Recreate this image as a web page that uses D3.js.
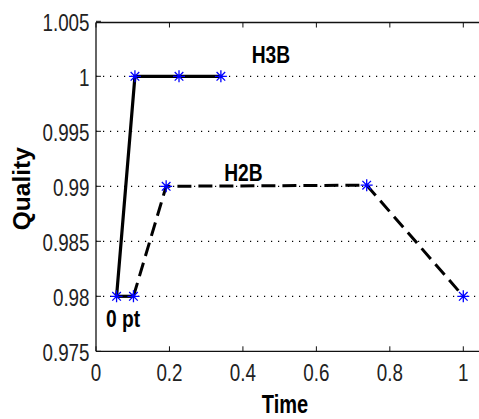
<!DOCTYPE html>
<html><head><meta charset="utf-8">
<script src="https://cdn.jsdelivr.net/npm/d3@7"></script>
<style>body{margin:0;background:#fff}svg{display:block}</style>
</head><body>
<script>
// ---- data ----
const xTicks = [0, 0.2, 0.4, 0.6, 0.8, 1];
const yTicks = [0.975, 0.98, 0.985, 0.99, 0.995, 1, 1.005];
const gridTicks = [0.98, 0.985, 0.99, 0.995, 1];
const h3bTime = [0.056, 0.106, 0.226, 0.34];
const h3bQuality = [0.98, 1.0, 1.0, 1.0];
const h2bTime = [0.102, 0.191, 0.737, 1.0];
const h2bQuality = [0.98, 0.99, 0.9901, 0.98];
const baseTime = [0.056, 0.102];
const baseQuality = [0.98, 0.98];
const labels = [
  {text: "H3B", t: 0.424, q: 1.00124},
  {text: "H2B", t: 0.349, q: 0.99048},
  {text: "0 pt", t: 0.027, q: 0.97718}
];

(function () {
const W = 479, H = 419;
const svg = d3.select("body").append("svg").attr("width", W).attr("height", H);
const x = d3.scaleLinear().domain([0, 1.05]).range([96, 96 + 1.05 * 367.3]);
const y = d3.scaleLinear().domain([0.975, 1.005]).range([351.3, 21.3]);
const font = "'Liberation Sans', Arial, sans-serif";

// grid
svg.append("g").selectAll("line").data(gridTicks).join("line")
  .attr("x1", x(0)).attr("x2", W).attr("y1", d => y(d)).attr("y2", d => y(d))
  .attr("stroke", "#000").attr("stroke-width", 1.2).attr("stroke-dasharray", "1.2,5.8");

// axes frame
const yTop = y(1.005) + 1.2, yBot = y(0.975);
svg.append("line").attr("x1", x(0)).attr("x2", W).attr("y1", yTop).attr("y2", yTop).attr("stroke", "#111").attr("stroke-width", 1.3);
svg.append("line").attr("x1", x(0)).attr("x2", W).attr("y1", yBot).attr("y2", yBot).attr("stroke", "#111").attr("stroke-width", 1.3);
svg.append("line").attr("x1", x(0)).attr("x2", x(0)).attr("y1", yTop).attr("y2", yBot).attr("stroke", "#111").attr("stroke-width", 1.3);

// ticks (inward)
svg.append("g").selectAll("line").data(xTicks).join("line")
  .attr("x1", d => x(d)).attr("x2", d => x(d)).attr("y1", yBot).attr("y2", yBot - 5).attr("stroke", "#111");
svg.append("g").selectAll("line").data(xTicks).join("line")
  .attr("x1", d => x(d)).attr("x2", d => x(d)).attr("y1", yTop).attr("y2", yTop + 5).attr("stroke", "#111");
svg.append("g").selectAll("line").data(yTicks).join("line")
  .attr("x1", x(0)).attr("x2", x(0) + 5).attr("y1", d => y(d)).attr("y2", d => y(d)).attr("stroke", "#111");

// tick labels
const fmt = d => String(+d.toFixed(3));
svg.append("g").selectAll("text").data(yTicks).join("text")
  .attr("transform", d => `translate(89.5,${y(d)}) scale(0.8,1)`)
  .attr("dy", "0.4em").attr("text-anchor", "end")
  .attr("font-family", font).attr("font-size", 23.5).attr("fill", "#222")
  .text(fmt);
svg.append("g").selectAll("text").data(xTicks).join("text")
  .attr("transform", d => `translate(${x(d)},381) scale(0.8,1)`)
  .attr("text-anchor", "middle")
  .attr("font-family", font).attr("font-size", 23.5).attr("fill", "#222")
  .text(fmt);

// axis titles
svg.append("text").attr("transform", "translate(285,413) scale(0.77,1)")
  .attr("text-anchor", "middle").attr("font-family", font).attr("font-weight", "bold")
  .attr("font-size", 26).attr("fill", "#000").text("Time");
svg.append("text").attr("transform", "translate(30,188.7) rotate(-90)")
  .attr("text-anchor", "middle").attr("font-family", font).attr("font-weight", "bold")
  .attr("font-size", 24.5).attr("fill", "#000").text("Quality");

// lines
const line = d3.line().x(d => x(d[0])).y(d => y(d[1]));
const zip = (a, b) => a.map((v, i) => [v, b[i]]);
const h3b = zip(h3bTime, h3bQuality), h2b = zip(h2bTime, h2bQuality), base = zip(baseTime, baseQuality);
svg.append("path").datum(base).attr("d", line).attr("fill", "none").attr("stroke", "#000").attr("stroke-width", 3.2);
svg.append("path").datum(h2b).attr("d", line).attr("fill", "none").attr("stroke", "#000")
  .attr("stroke-width", 3).attr("stroke-dasharray", "14,7");
svg.append("path").datum(h3b).attr("d", line).attr("fill", "none").attr("stroke", "#000").attr("stroke-width", 3.2);

// asterisk markers
const r = 6, rd = 4.3;
const star = `M${-r},0L${r},0M0,${-r}L0,${r}M${-rd},${-rd}L${rd},${rd}M${-rd},${rd}L${rd},${-rd}`;
svg.append("g").selectAll("path").data(h3b.concat(h2b)).join("path")
  .attr("transform", d => `translate(${x(d[0])},${y(d[1])})`)
  .attr("d", star).attr("fill", "none").attr("stroke", "#0000ff").attr("stroke-width", 1.3);

// annotations
svg.append("g").selectAll("text").data(labels).join("text")
  .attr("transform", d => `translate(${x(d.t)},${y(d.q)}) scale(0.8,1)`)
  .attr("font-family", font).attr("font-weight", "bold").attr("font-size", 24)
  .attr("fill", "#000").text(d => d.text);
})();
</script>
</body></html>
